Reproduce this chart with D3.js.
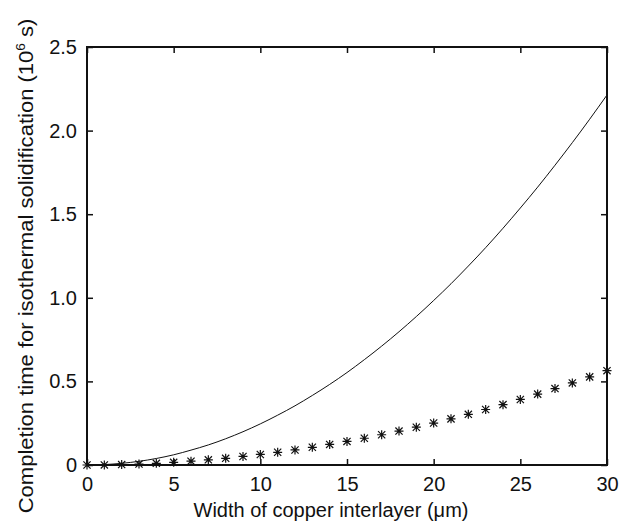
<!DOCTYPE html>
<html>
<head>
<meta charset="utf-8">
<script src="https://cdn.jsdelivr.net/npm/d3@7"></script>
<style>
  body { margin: 0; background: #fff; }
  text { font-family: "Liberation Sans", Arial, sans-serif; fill: #111; }
</style>
</head>
<body>
<svg id="canvas" width="632" height="526"></svg>
<script>
// largeur de la couche de cuivre (µm)
let largeurs = d3.range(0, 31)
// courbe continue (10^6 s)
let tempsCourbe = [0, 0.0025, 0.01, 0.022, 0.039, 0.061, 0.089, 0.12, 0.157, 0.199, 0.246,
  0.298, 0.354, 0.416, 0.482, 0.553, 0.63, 0.711, 0.797, 0.888, 0.984,
  1.084, 1.19, 1.30, 1.416, 1.537, 1.662, 1.793, 1.928, 2.068, 2.213]
// points en étoile (10^6 s)
let tempsPoints = [0, 0.0006, 0.0025, 0.0056, 0.01, 0.016, 0.023, 0.031, 0.04, 0.051, 0.063,
  0.076, 0.09, 0.106, 0.123, 0.141, 0.16, 0.181, 0.203, 0.226, 0.251,
  0.276, 0.303, 0.332, 0.361, 0.392, 0.424, 0.457, 0.491, 0.527, 0.564]
let ticksX = [0, 5, 10, 15, 20, 25, 30]
let ticksY = [0, 0.5, 1.0, 1.5, 2.0, 2.5]

let canvas = d3.select('#canvas')
let gauche = 87, droite = 607, haut = 47, bas = 465

let x = d3.scaleLinear().domain([0, 30]).range([gauche, droite])
let y = d3.scaleLinear().domain([0, 2.5]).range([bas, haut])

let fmtY = d => d === 0 ? '0' : d3.format('.1f')(d)

// axes avec petits traits vers l'intérieur
canvas.append('g').attr('transform', `translate(0,${bas})`)
  .call(d3.axisBottom(x).tickValues(ticksX).tickSizeInner(-6).tickSizeOuter(0).tickPadding(12))
canvas.append('g').attr('transform', `translate(0,${haut})`)
  .call(d3.axisTop(x).tickValues(ticksX).tickSizeInner(-6).tickSizeOuter(0).tickFormat(''))
canvas.append('g').attr('transform', `translate(${gauche},0)`)
  .call(d3.axisLeft(y).tickValues(ticksY).tickFormat(fmtY).tickSizeInner(-6).tickSizeOuter(0).tickPadding(10))
canvas.append('g').attr('transform', `translate(${droite},0)`)
  .call(d3.axisRight(y).tickValues(ticksY).tickSizeInner(-6).tickSizeOuter(0).tickFormat(''))

canvas.selectAll('.domain').remove()
canvas.selectAll('.tick line').attr('stroke', '#111').attr('stroke-width', 1.5)
canvas.selectAll('.tick text').style('font-size', '20px').attr('fill', '#111')

// cadre
canvas.append('rect')
  .attr('x', gauche).attr('y', haut)
  .attr('width', droite - gauche).attr('height', bas - haut)
  .attr('fill', 'none').attr('stroke', '#111').attr('stroke-width', 2)

// courbe
let ligne = d3.line().x((d, i) => x(largeurs[i])).y(d => y(d)).curve(d3.curveMonotoneX)
canvas.append('path')
  .datum(tempsCourbe)
  .attr('d', ligne)
  .attr('fill', 'none').attr('stroke', '#111').attr('stroke-width', 1)

// étoiles
let r = 4.5
let etoile = `M${-r},0L${r},0M0,${-r}L0,${r}M${-r * 0.8},${-r * 0.8}L${r * 0.8},${r * 0.8}M${-r * 0.8},${r * 0.8}L${r * 0.8},${-r * 0.8}`
canvas.selectAll('path.etoile')
  .data(tempsPoints)
  .enter()
  .append('path')
  .attr('class', 'etoile')
  .attr('transform', (d, i) => `translate(${x(largeurs[i])},${y(d)})`)
  .attr('d', etoile)
  .attr('fill', 'none').attr('stroke', '#111').attr('stroke-width', 1.2)

// titres des axes
canvas.append('text')
  .attr('x', 331).attr('y', 517)
  .attr('text-anchor', 'middle')
  .style('font-size', '20px')
  .text('Width of copper interlayer (μm)')

// titre Y un peu étiré en largeur comme sur l'original
let titreY = canvas.append('text')
  .attr('transform', 'translate(33,266) rotate(-90) scale(1.13,1)')
  .attr('text-anchor', 'middle')
  .style('font-size', '19.5px')
titreY.append('tspan').text('Completion time for isothermal solidification (10')
titreY.append('tspan').attr('dy', -8).style('font-size', '12px').text('6')
titreY.append('tspan').attr('dy', 8).text(' s)')
</script>
</body>
</html>
